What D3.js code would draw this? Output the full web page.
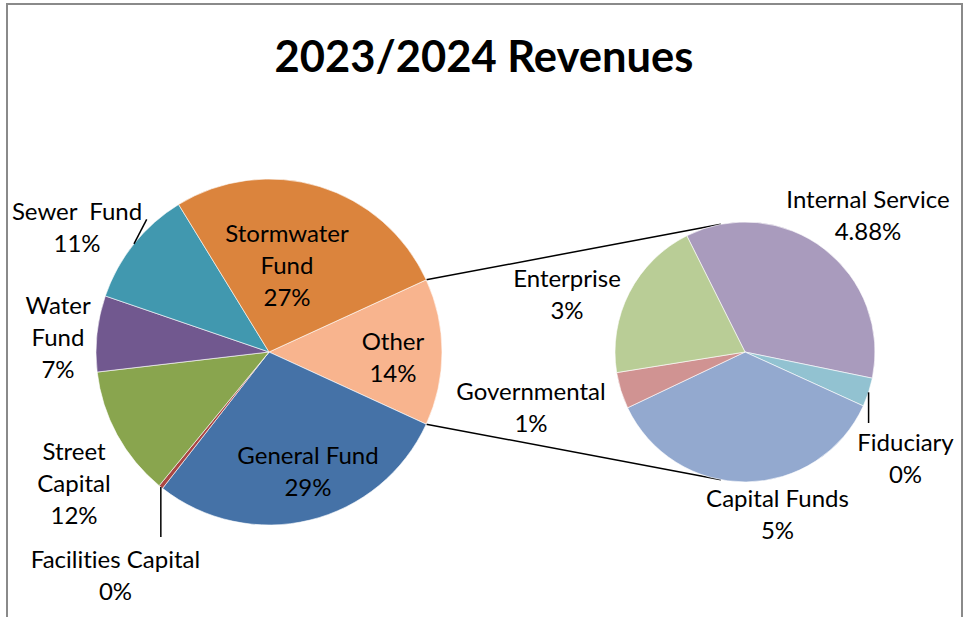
<!DOCTYPE html>
<html>
<head>
<meta charset="utf-8">
<script src="https://cdn.jsdelivr.net/npm/d3@7/dist/d3.min.js"></script>
<style>
  html, body { margin: 0; padding: 0; background: #fff; }
  svg { display: block; font-family: Lato, "Open Sans", sans-serif; font-variant-ligatures: none; font-feature-settings: "liga" 0, "clig" 0; }
</style>
</head>
<body>
<svg id="chart" width="964" height="617"></svg>
<script>
// Breakdown of the "Other" slice (percent of total revenues)
const secondaryCategories = ["Internal Service", "Fiduciary", "Capital Funds", "Governmental", "Enterprise"];
const secondaryValues = [4.88, 0.49, 4.95, 0.62, 2.76];
const secondaryDigits = [2, 0, 0, 0, 0];

// Main funds (percent of total revenues); "Other" is the sum of the breakdown
const mainCategories = ["Other", "General Fund", "Facilities Capital", "Street Capital", "Water Fund", "Sewer Fund", "Stormwater Fund"];
const mainValues = [d3.sum(secondaryValues), 28.7, 0.4, 12.2, 7.1, 11.0, 26.9];
const mainDigits = [0, 0, 0, 0, 0, 0, 0];

const mainColors = ["#F8B48E", "#4572A7", "#AA4643", "#89A54E", "#71588F", "#4198AF", "#DB843D"];
const secondaryColors = ["#A99BBD", "#92C2D1", "#93A9CF", "#D09392", "#B9CD96"];

const titleText = "2023/2024 Revenues";

// ---- layout ----
const W = 964, H = 617;
const main = { cx: 269, cy: 352, r: 173 };
const sec = { cx: 745, cy: 352, r: 130 };
const fontSize = 24, lineH = 32;
const deg = Math.PI / 180;

// label block centres relative to each pie centre, with line breaks and leaders
const mainLabelLayout = {
  "Other":              { dx: 124,    dy: 5,     lines: ["Other"] },
  "General Fund":       { dx: 39,     dy: 119,   lines: ["General Fund"] },
  "Facilities Capital": { dx: -153.5, dy: 223,   lines: ["Facilities Capital"], leader: { dy: 185 } },
  "Street Capital":     { dx: -195,   dy: 131,   lines: ["Street", "Capital"] },
  "Water Fund":         { dx: -211,   dy: -15,   lines: ["Water", "Fund"] },
  "Sewer Fund":         { dx: -192,   dy: -124.5, lines: ["Sewer  Fund"], leader: { dx: -122.3, dy: -132.7 } },
  "Stormwater Fund":    { dx: 18,     dy: -87,   lines: ["Stormwater", "Fund"] }
};
const secLabelLayout = {
  "Internal Service": { dx: 123,   dy: -137,  lines: ["Internal Service"] },
  "Fiduciary":        { dx: 160.5, dy: 106.5, lines: ["Fiduciary"], leader: { dy: 71 } },
  "Capital Funds":    { dx: 32.5,  dy: 162.5, lines: ["Capital Funds"] },
  "Governmental":     { dx: -214,  dy: 55.5,  lines: ["Governmental"] },
  "Enterprise":       { dx: -178,  dy: -58,   lines: ["Enterprise"] }
};

const svg = d3.select("#chart");
svg.append("rect").attr("width", W).attr("height", H).attr("fill", "#fff");

// chart frame
svg.append("rect")
  .attr("x", 7).attr("y", 4).attr("width", 955).attr("height", 700)
  .attr("fill", "none").attr("stroke", "#8a8a8a").attr("stroke-width", 2);

// title
svg.append("text")
  .attr("x", 484).attr("y", 72)
  .attr("text-anchor", "middle")
  .attr("font-weight", 700).attr("font-size", 43.5)
  .attr("fill", "#000")
  .text(titleText);

const mainTotal = d3.sum(mainValues);
const otherSpan = mainValues[0] / mainTotal * 2 * Math.PI;
const mainStart = Math.PI / 2 - otherSpan / 2;

const mainPie = d3.pie().sort(null).value(d => d.value)
  .startAngle(mainStart).endAngle(mainStart + 2 * Math.PI);
const secPie = d3.pie().sort(null).value(d => d.value)
  .startAngle(-26.6 * deg).endAngle(-26.6 * deg + 2 * Math.PI);

const mainData = mainPie(mainCategories.map((c, i) => ({ name: c, value: mainValues[i], color: mainColors[i], digits: mainDigits[i] })));
const secData = secPie(secondaryCategories.map((c, i) => ({ name: c, value: secondaryValues[i], color: secondaryColors[i], digits: secondaryDigits[i] })));

function polar(p, a, r) {
  return [p.cx + r * Math.sin(a), p.cy - r * Math.cos(a)];
}

function drawPie(p, arcs, layout) {
  const g = svg.append("g").attr("transform", `translate(${p.cx},${p.cy})`);
  const arc = d3.arc().innerRadius(0).outerRadius(p.r);
  g.selectAll("path").data(arcs).join("path")
    .attr("d", arc)
    .attr("fill", d => d.data.color)
    .attr("stroke", "#fff").attr("stroke-width", 0.6);

  arcs.forEach(d => {
    const L = layout[d.data.name];
    if (!L) return;
    const pct = d3.format(`.${d.data.digits}f`)(d.data.value / mainTotal * 100) + "%";
    const lines = L.lines.concat([pct]);
    if (L.leader) {
      const mid = (d.startAngle + d.endAngle) / 2;
      const s = polar({ cx: 0, cy: 0 }, mid, p.r);
      const ex = L.leader.dx !== undefined ? L.leader.dx : s[0];
      g.append("line")
        .attr("x1", s[0]).attr("y1", s[1])
        .attr("x2", ex).attr("y2", L.leader.dy)
        .attr("stroke", "#000").attr("stroke-width", 1.5);
    }
    const t = g.append("text")
      .attr("text-anchor", "middle")
      .attr("font-size", fontSize).attr("fill", "#000")
      .style("white-space", "pre");
    lines.forEach((ln, i) => {
      t.append("tspan")
        .attr("x", L.dx)
        .attr("y", L.dy + (i - (lines.length - 1) / 2) * lineH + 0.36 * fontSize)
        .text(ln);
    });
  });
}

// connector lines: outer tangents from the "Other" slice edges to the breakdown pie
function tangent(P, c, upper) {
  const vx = P[0] - c.cx, vy = P[1] - c.cy;
  const d = Math.hypot(vx, vy);
  const base = Math.atan2(vy, vx);
  const a = Math.acos(c.r / d);
  const pts = [base + a, base - a].map(t => [c.cx + c.r * Math.cos(t), c.cy + c.r * Math.sin(t)]);
  return upper ? (pts[0][1] < pts[1][1] ? pts[0] : pts[1]) : (pts[0][1] > pts[1][1] ? pts[0] : pts[1]);
}
const oArc = mainData[0];
const pTop = polar(main, oArc.startAngle, main.r);
const pBot = polar(main, oArc.endAngle, main.r);
[[pTop, tangent(pTop, sec, true)], [pBot, tangent(pBot, sec, false)]].forEach(([a, b]) => {
  svg.append("line")
    .attr("x1", a[0]).attr("y1", a[1]).attr("x2", b[0]).attr("y2", b[1])
    .attr("stroke", "#000").attr("stroke-width", 1.5);
});

drawPie(main, mainData, mainLabelLayout);
drawPie(sec, secData, secLabelLayout);
</script>
</body>
</html>
